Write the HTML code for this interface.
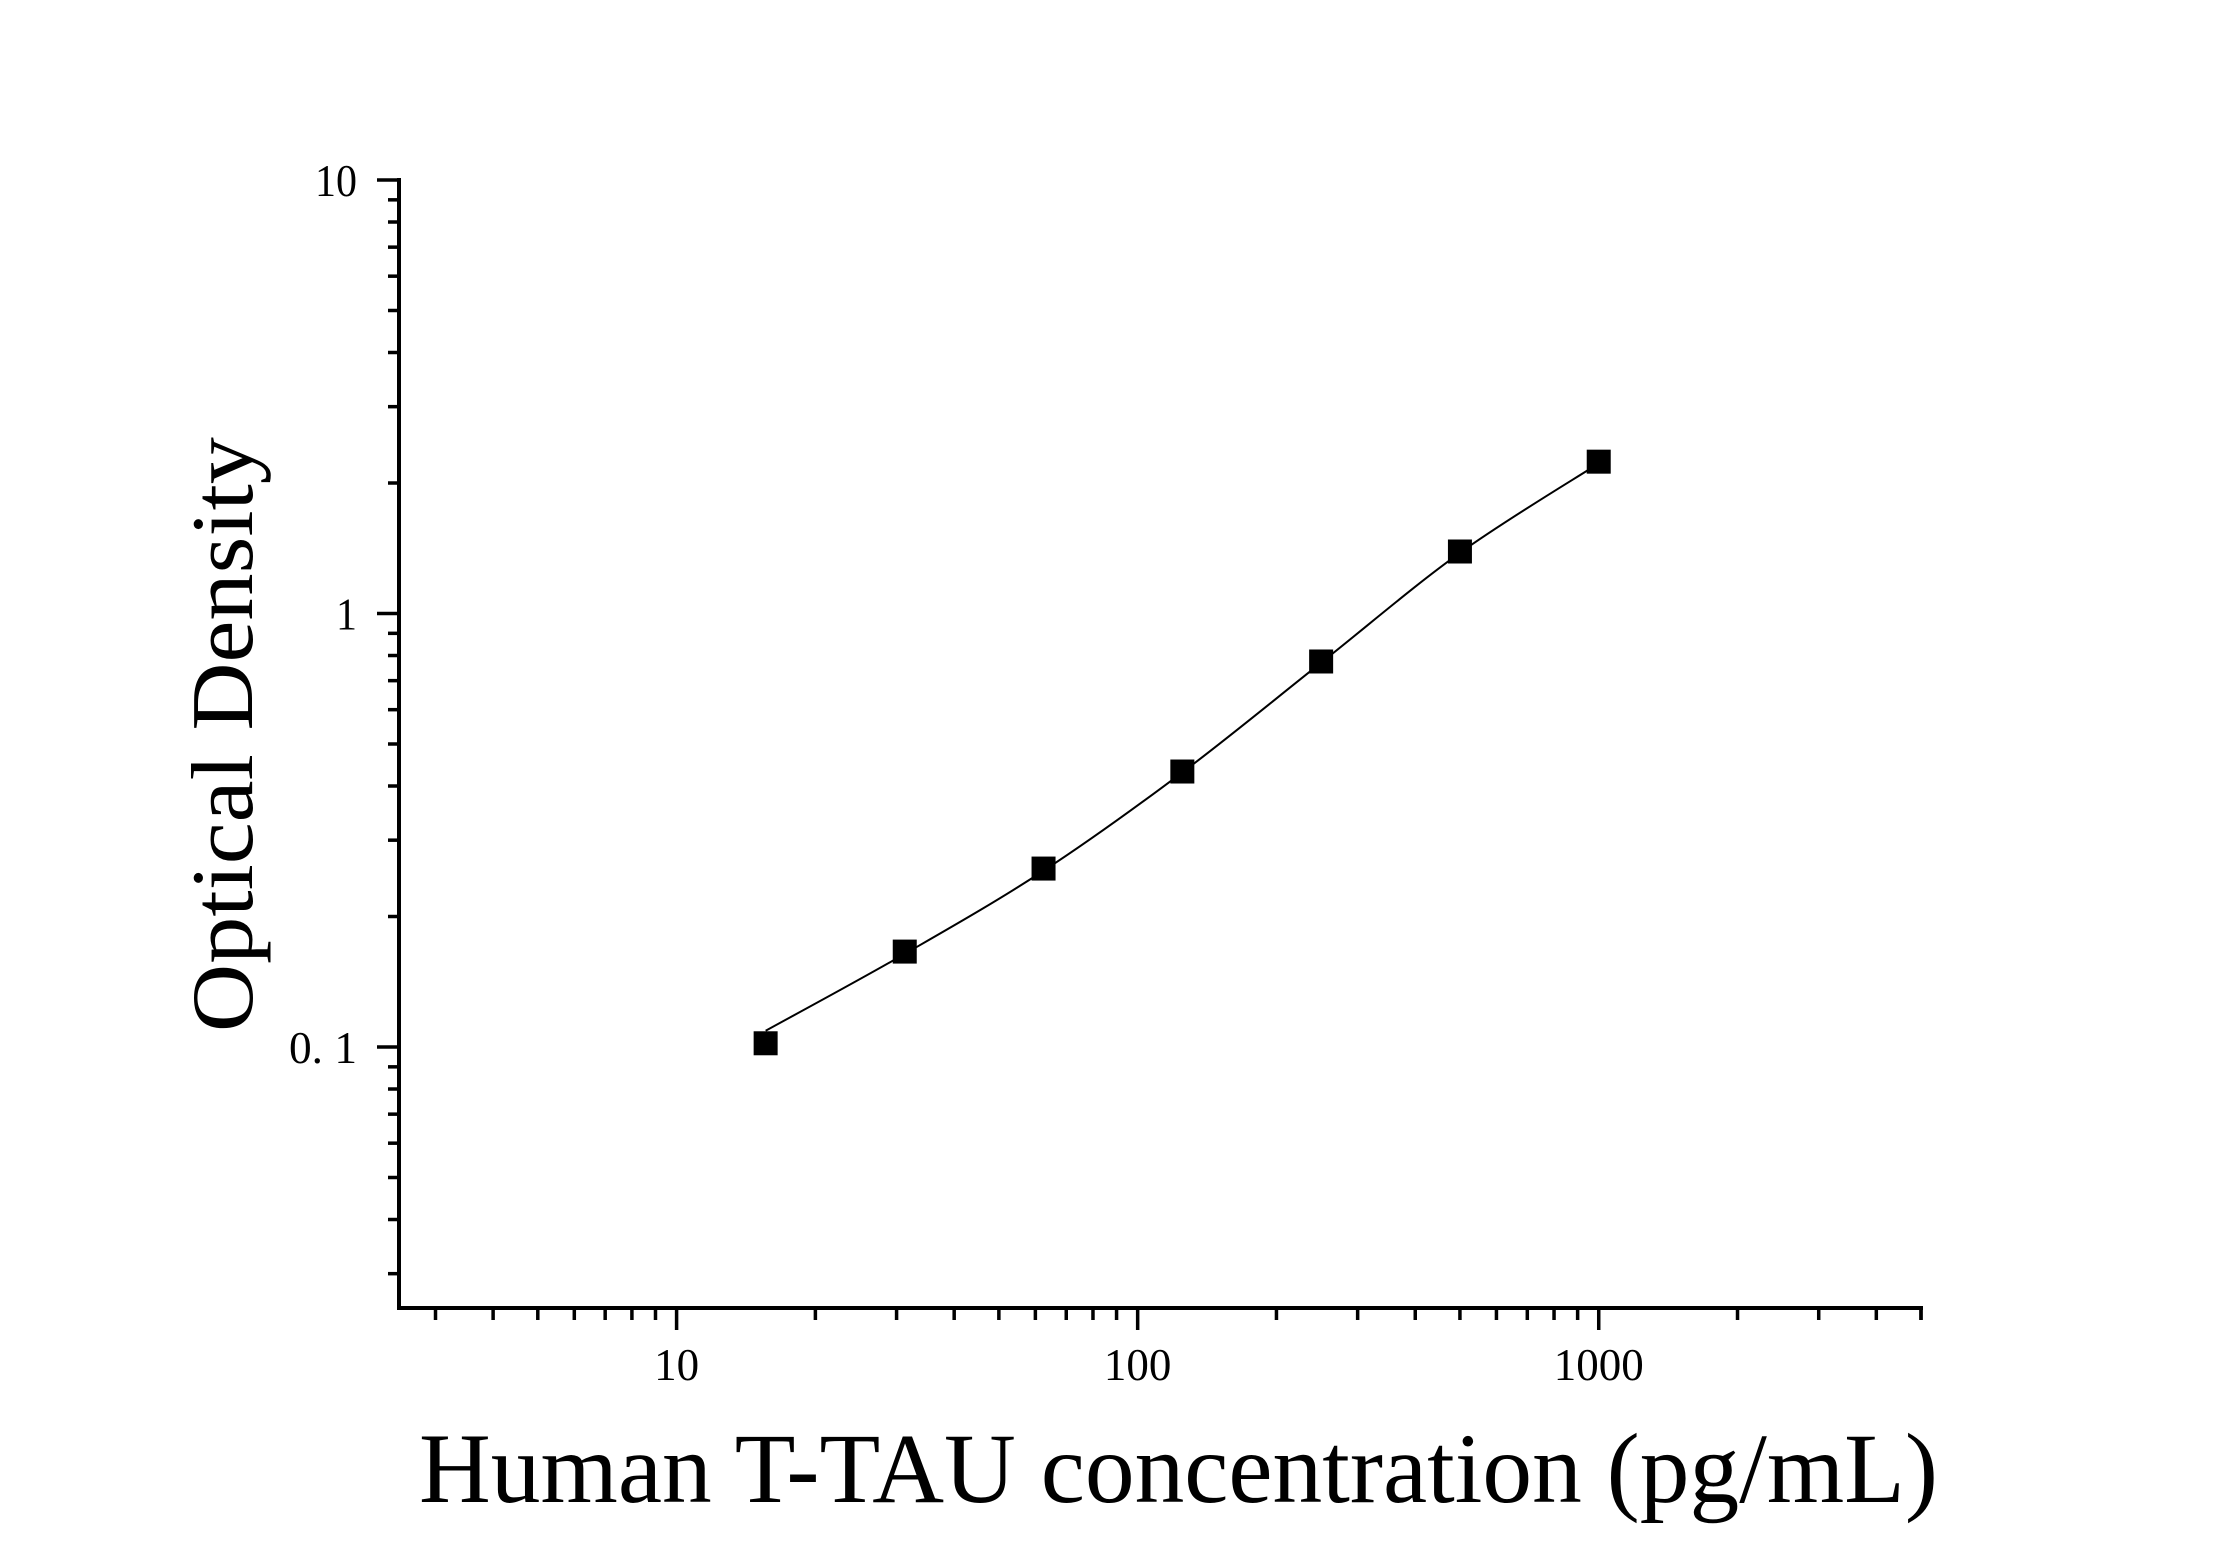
<!DOCTYPE html>
<html><head><meta charset="utf-8"><style>
html,body{margin:0;padding:0;background:#fff;}
svg{display:block;font-family:"Liberation Serif","Times New Roman",serif;}
</style></head><body>
<svg id="chart" width="2231" height="1559" viewBox="0 0 2231 1559" xmlns="http://www.w3.org/2000/svg">
<rect width="2231" height="1559" fill="#fff"/>
<g id="axes"></g>
<g id="series"></g>
<text transform="translate(252,1032) rotate(-90)" font-size="88" textLength="595" lengthAdjust="spacingAndGlyphs" fill="#000">Optical Density</text>
<text x="419" y="1502" font-size="100" textLength="1519" lengthAdjust="spacingAndGlyphs" fill="#000">Human T-TAU concentration (pg/mL)</text>
</svg>
<script>
const concentrations = [15.6, 31.25, 62.5, 125, 250, 500, 1000];
const odValues = [0.102, 0.166, 0.258, 0.432, 0.775, 1.39, 2.24];
const fitValues = [0.109, 0.164, 0.255, 0.43, 0.77, 1.38, 2.22];
const xMajorTicks = [10, 100, 1000];
const xTickLabels = ["10", "100", "1000"];
const yMajorTicks = [0.1, 1, 10];
const yTickLabels = ["0. 1", "1", "10"];

const NS = "http://www.w3.org/2000/svg";
const X0 = 399, X1 = 1921, XMIN = 2.5, XMAX = 5000;
const Y0 = 1308, Y1 = 180, YMIN = 0.025, YMAX = 10;
function xs(v){return X0 + (Math.log10(v)-Math.log10(XMIN))/(Math.log10(XMAX)-Math.log10(XMIN))*(X1-X0);}
function ys(v){return Y0 - (Math.log10(v)-Math.log10(YMIN))/(Math.log10(YMAX)-Math.log10(YMIN))*(Y0-Y1);}
function mk(tag, attrs, parent){const e=document.createElementNS(NS,tag);for(const k in attrs)e.setAttribute(k,attrs[k]);parent.appendChild(e);return e;}
const axes=document.getElementById('axes'), series=document.getElementById('series');

let el = mk('line',{x1:X0,y1:Y1-2,x2:X0,y2:Y0+2,stroke:'#000','stroke-width':4},axes);


el = mk('line',{x1:X0-2,y1:Y0,x2:X1+2,y2:Y0,stroke:'#000','stroke-width':4},axes);



// x ticks
for(let d=1; d<=1000; d*=10){
  for(let m=1;m<=9;m++){
    const v=d*m; if(v<XMIN||v>XMAX) continue;
    const major=(m===1);
    const t=mk('line',{x1:xs(v),y1:Y0,x2:xs(v),y2:Y0+(major?22:12),stroke:'#000','stroke-width':3.5},axes);
    
    
  }
}
const tEnd=mk('line',{x1:xs(5000),y1:Y0,x2:xs(5000),y2:Y0+12,stroke:'#000','stroke-width':3.5},axes);


xMajorTicks.forEach((v,i)=>{
  const w = xTickLabels[i].length*22.5;
  const t=mk('text',{x:xs(v),y:1380,'text-anchor':'middle','font-size':46,textLength:w,lengthAdjust:'spacingAndGlyphs',fill:'#000'},axes);
  t.textContent=xTickLabels[i];
  
  
});

// y ticks
for(let d=0.01; d<=10; d*=10){
  for(let m=1;m<=9;m++){
    const v=+(d*m).toPrecision(3); if(v<YMIN||v>YMAX) continue;
    const major=(m===1);
    const t=mk('line',{x1:X0,y1:ys(v),x2:X0-(major?22:11),y2:ys(v),stroke:'#000','stroke-width':3.5},axes);
    
    
  }
}
yMajorTicks.forEach((v,i)=>{
  const lbl=yTickLabels[i];
  const w = lbl==="0. 1"?68:(lbl.length*21);
  const t=mk('text',{x:357,y:ys(v)+16,'text-anchor':'end','font-size':46,textLength:w,lengthAdjust:'spacingAndGlyphs',fill:'#000'},axes);
  t.textContent=lbl;
  
  
});

// fit curve (Catmull-Rom through fit values in log space)
const P = concentrations.map((c,i)=>[xs(c), ys(fitValues[i])]);
let dstr = `M${P[0][0]},${P[0][1]}`;
for(let i=0;i<P.length-1;i++){
  const p0=P[Math.max(0,i-1)], p1=P[i], p2=P[i+1], p3=P[Math.min(P.length-1,i+2)];
  const c1=[p1[0]+(p2[0]-p0[0])/6, p1[1]+(p2[1]-p0[1])/6];
  const c2=[p2[0]-(p3[0]-p1[0])/6, p2[1]-(p3[1]-p1[1])/6];
  dstr += ` C${c1[0]},${c1[1]} ${c2[0]},${c2[1]} ${p2[0]},${p2[1]}`;
}
const curve=mk('path',{d:dstr,fill:'none',stroke:'#000','stroke-width':2},series);



concentrations.forEach((c,i)=>{
  const s=24;
  const r=mk('rect',{x:xs(c)-s/2,y:ys(odValues[i])-s/2,width:s,height:s,fill:'#000'},series);
  
  
});
</script>
</body></html>
